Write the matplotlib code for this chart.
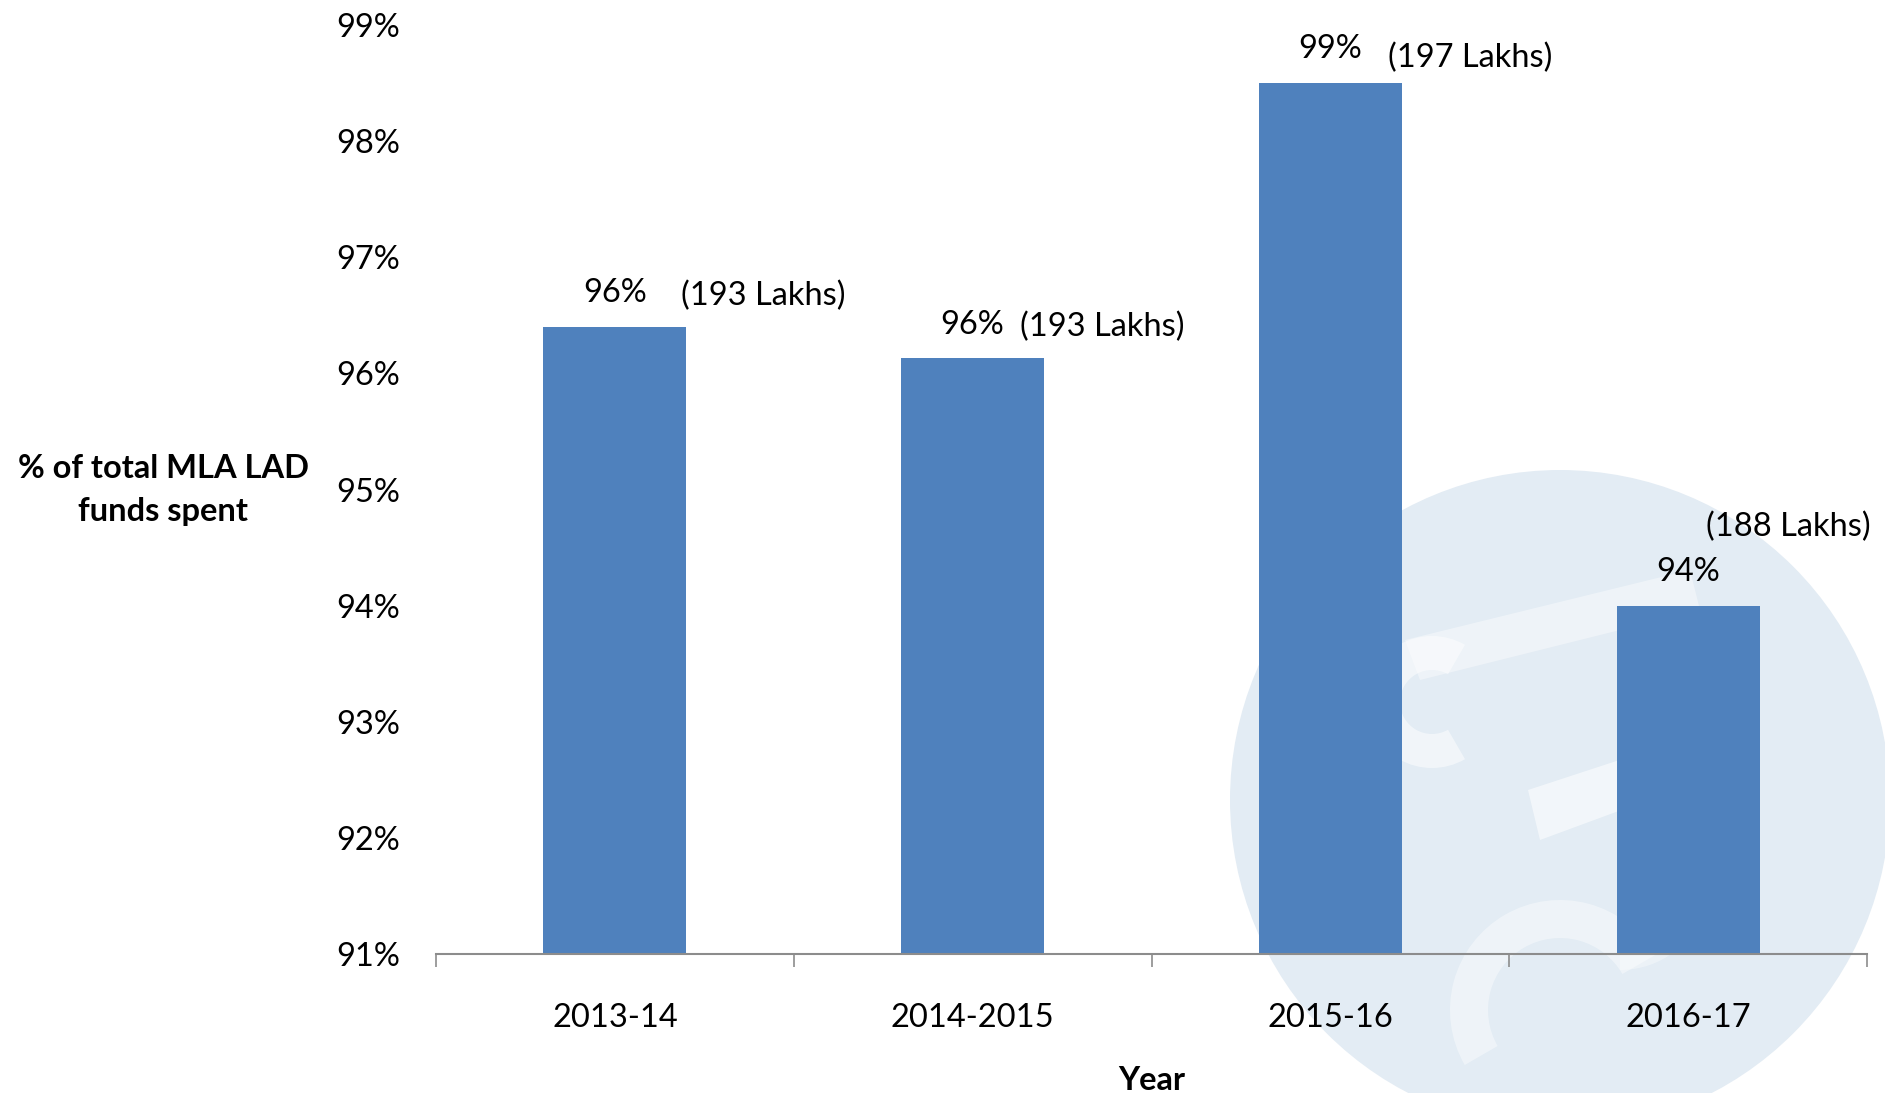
import matplotlib
matplotlib.use("Agg")
import matplotlib.pyplot as plt
from matplotlib.patches import Circle, Wedge, Polygon
import numpy as np

# ---- data ----
years = ["2013-14", "2014-2015", "2015-16", "2016-17"]
pct_spent = [96.4, 96.13, 98.5, 94.0]
pct_labels = ["96%", "96%", "99%", "94%"]
lakh_labels = ["(193 Lakhs)", "(193 Lakhs)", "(197 Lakhs)", "(188 Lakhs)"]
y_ticks = [91, 92, 93, 94, 95, 96, 97, 98, 99]
y_tick_labels = ["91%", "92%", "93%", "94%", "95%", "96%", "97%", "98%", "99%"]

plt.rcParams['font.family'] = ['Lato', 'DejaVu Sans']
FS = 23.5
BAR = "#4f81bd"

W, H = 1885, 1093
fig = plt.figure(figsize=(W / 100, H / 100), dpi=100)

# ---- watermark (light circular logo) behind everything ----
wm = fig.add_axes([0, 0, 1, 1], zorder=0)
wm.set_xlim(0, W)
wm.set_ylim(H, 0)
wm.set_aspect('equal')
wm.axis('off')
wc = "#e3ecf4"
wm.add_patch(Circle((1560, 800), 330, color=wc, lw=0))
# white logo strokes (approximate, faint)
wm.add_patch(Wedge((1432, 702), 66, 60, 300, width=34, color="white", alpha=0.5, lw=0))
wm.add_patch(Polygon([[1405, 640], [1690, 570], [1700, 610], [1420, 680]], closed=True,
                     color="white", alpha=0.4, lw=0))
wm.add_patch(Polygon([[1528, 790], [1650, 750], [1662, 795], [1540, 840]], closed=True,
                     color="white", alpha=0.55, lw=0))
wm.add_patch(Wedge((1560, 1010), 110, 150, 330, width=38, color="white", alpha=0.4, lw=0))
wm.add_patch(Wedge((1620, 880), 90, 300, 90, width=34, color="white", alpha=0.35, lw=0))

# ---- main axes ----
ax = fig.add_axes([436 / W, 1 - 954 / H, (1867 - 436) / W, (954 - 25) / H], zorder=1)
ax.patch.set_alpha(0)
x = np.arange(len(years))
bars = ax.bar(x, [v - 91 for v in pct_spent], bottom=91, width=0.4, color=BAR, zorder=2)

ax.set_xlim(-0.5, len(years) - 0.5)
ax.set_ylim(91, 99)
ax.set_yticks(y_ticks)
ax.set_yticklabels(y_tick_labels, fontsize=FS)
ax.tick_params(axis='y', length=0, pad=26)
ax.set_xticks(x)
ax.set_xticklabels(years, fontsize=FS)
ax.set_xticks(np.arange(-0.5, len(years), 1.0), minor=True)
ax.tick_params(axis='x', which='major', length=0, pad=35)
ax.tick_params(axis='x', which='minor', length=9, width=1.2, color="#8c8c8c", direction='out')
for s in ['left', 'right', 'top']:
    ax.spines[s].set_visible(False)
ax.spines['bottom'].set_color("#8c8c8c")
ax.spines['bottom'].set_linewidth(1.5)

# data labels (offsets in pixels from the bar top centre)
pct_off = [(0, 34), (0, 33), (0, 34), (0, 34)]
lakh_off = [(67, 31), (48, 31), (58, 25), (18, 79)]
for i, b in enumerate(bars):
    top = pct_spent[i]
    ax.annotate(pct_labels[i], xy=(x[i], top), xytext=pct_off[i], textcoords='offset pixels',
                ha='center', va='center', fontsize=FS, zorder=3)
    ax.annotate(lakh_labels[i], xy=(x[i] + 0.2, top), xytext=(lakh_off[i][0] - 72, lakh_off[i][1]),
                textcoords='offset pixels', ha='left', va='center', fontsize=FS, zorder=3)

fig.text(1152 / W, 1 - 1080 / H, "Year", ha='center', va='center', fontsize=FS, fontweight='bold')
fig.text(163 / W, 1 - 490 / H, "% of total MLA LAD\nfunds spent", ha='center', va='center',
         fontsize=FS, fontweight='bold', linespacing=1.62)

fig.savefig("out.png", dpi=100)
